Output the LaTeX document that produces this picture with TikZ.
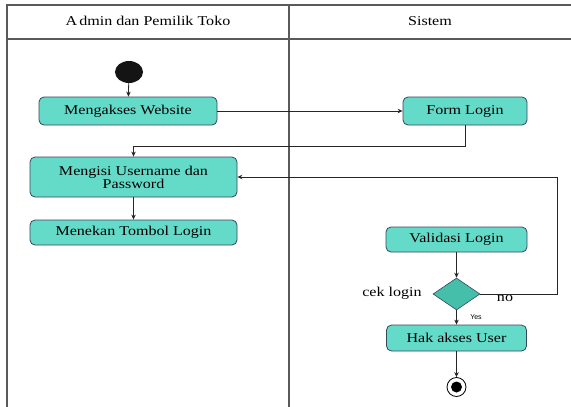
\documentclass[tikz,border=0pt]{standalone}
\usepackage{fontspec}
\setmainfont{Liberation Serif}[FakeStretch=1.19]
\setsansfont{Liberation Sans}
\usetikzlibrary{shapes.geometric,arrows.meta}
\definecolor{boxfill}{HTML}{64DAC8}
\definecolor{diafill}{HTML}{45BEAA}
\definecolor{boxline}{HTML}{34485C}
\definecolor{frameline}{HTML}{5A5A5A}
\tikzset{
  actbox/.style={draw=boxline, line width=0.8pt, fill=boxfill, rounded corners=5pt,
    minimum width=#1, inner sep=0pt, align=center, font=\fontsize{13.5}{13}\selectfont},
  decbox/.style={draw=boxline, line width=0.6pt, fill=diafill, diamond, aspect=1.47,
    minimum width=47pt, minimum height=32pt, inner sep=0pt},
  arr/.style={draw=black!85, line width=0.8pt, -{Stealth[length=5pt,width=4.5pt]}},
  frame/.style={draw=frameline, line width=1.1pt},
  lbl/.style={font=\fontsize{13.5}{13}\selectfont, inner sep=0pt},
}
\begin{document}
\begin{tikzpicture}[x=1pt,y=-1pt]
\useasboundingbox (0,0) rectangle (571,407);
% swimlane frame
\draw[frame] (7,407) -- (7,5) -- (571,5);
\draw[frame] (7,39) -- (571,39);
\draw[frame] (289,5) -- (289,407);
\node[lbl] (h1) at (148,21) {A\kern2pt dmin dan Pemilik Toko};
\node[lbl] (h2) at (430,21) {Sistem};
% nodes
\node[ellipse, fill=black!92, minimum width=28pt, minimum height=22pt, inner sep=0pt] (start) at (129,72) {};
\node[actbox=178pt, minimum height=28pt] (web) at (128,111) {Mengakses Website};
\node[actbox=124pt, minimum height=28pt] (form) at (465,111) {Form Login};
\node[actbox=207pt, minimum height=40pt] (isi) at (133.5,177) {Mengisi Username dan\\Password};
\node[actbox=207pt, minimum height=25pt] (tekan) at (133.5,232.5) {Menekan Tombol Login};
\node[actbox=141pt, minimum height=25pt] (valid) at (456.5,239.5) {Validasi Login};
\node[decbox] (dia) at (456.5,294) {};
\node[actbox=140pt, minimum height=26pt] (hak) at (456.5,338) {Hak akses User};
\node[circle, draw=black, line width=0.8pt, fill=white, minimum size=19pt, inner sep=0pt] (end) at (456.5,387) {};
\node[circle, fill=black, minimum size=11pt, inner sep=0pt] (endin) at (end.center) {};
% labels
\node[lbl] (cek) at (392,293) {cek login};
\node[lbl] (no) at (505,298) {no};
\node[font=\sffamily\fontsize{7}{8}\selectfont, inner sep=0pt] (yes) at (476,317) {Yes};
% connectors
\draw[arr] (start) -- (web);
\draw[arr] (web) -- (form);
\draw[arr] (form.south) -- ++(0,21) -| (isi.north);
\draw[arr] (isi) -- (tekan);
\draw[arr] (valid) -- (dia);
\draw[arr] (dia) -- (hak);
\draw[arr] (dia.east) -- ++(77,0) |- (isi.east);
\draw[arr] (hak) -- (end);
\end{tikzpicture}
\end{document}
